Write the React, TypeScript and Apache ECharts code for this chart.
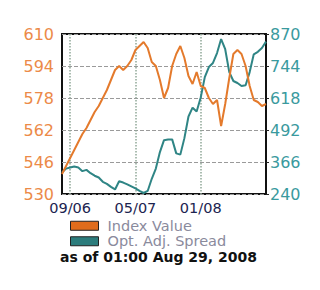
import React, { useEffect, useRef } from "react";
import * as echarts from "echarts";

const dates: string[] = [
  "2006-08-01","2006-08-16","2006-09-01","2006-09-16","2006-10-01","2006-10-16","2006-11-01","2006-11-16",
  "2006-12-01","2006-12-16","2007-01-01","2007-01-16","2007-02-01","2007-02-16","2007-03-01","2007-03-16",
  "2007-04-01","2007-04-16","2007-05-01","2007-05-16","2007-06-01","2007-06-16","2007-07-01","2007-07-16",
  "2007-08-01","2007-08-16","2007-09-01","2007-09-16","2007-10-01","2007-10-16","2007-11-01","2007-11-16",
  "2007-12-01","2007-12-16","2008-01-01","2008-01-16","2008-02-01","2008-02-16","2008-03-01","2008-03-16",
  "2008-04-01","2008-04-16","2008-05-01","2008-05-16","2008-06-01","2008-06-16","2008-07-01","2008-07-16",
  "2008-08-01","2008-08-16","2008-09-01",
];

const indexValue: number[] = [
  540, 544, 548, 552, 556, 560, 563, 567, 571, 574,
  578, 582, 587, 592, 594, 592, 594, 597, 602, 604,
  606, 603, 596, 594, 587, 578, 583, 594, 600, 604,
  598, 589, 585, 591, 584, 583, 578, 575, 577, 564,
  575, 588, 600, 602, 600, 594, 584, 577, 576, 574, 575,
];

const oas: number[] = [
  325, 340, 344, 348, 344, 330, 335, 322, 312, 305,
  288, 280, 268, 258, 290, 285, 278, 270, 262, 252,
  244, 252, 300, 340, 405, 452, 455, 455, 400, 395,
  460, 545, 580, 565, 620, 700, 740, 756, 795, 850,
  810, 720, 685, 677, 665, 668, 720, 790, 800, 815, 840,
];

const labelDates: string[] = ["2006-09-01", "2007-05-01", "2008-01-01"];
const leftTicks = { min: 530, max: 610, interval: 16 };
const rightTicks = { min: 240, max: 870, interval: 126 };
const seriesNames: string[] = ["Index Value", "Opt. Adj. Spread"];
const footnote = "as of 01:00 Aug 29, 2008";

const ORANGE = "#e47a2c";
const TEAL = "#2f8585";

export default function App() {
  const ref = useRef<HTMLDivElement>(null);
  useEffect(() => {
    if (!ref.current) return;
    const chart = echarts.init(ref.current, undefined, { renderer: "svg" });
    const showIdx = (i: number) => labelDates.includes(dates[i]);
    const font = "DejaVu Sans";
    chart.setOption({
      animation: false,
      backgroundColor: "#ffffff",
      grid: {
        left: 62, right: 54, top: 34, bottom: 96,
        show: true, borderColor: "#111111", borderWidth: 2, backgroundColor: "transparent",
      },
      xAxis: {
        type: "category",
        boundaryGap: false,
        data: dates,
        axisLine: { show: false },
        axisTick: { show: false },
        axisLabel: {
          interval: (i: number) => showIdx(i),
          formatter: (v: string) => v.slice(5, 7) + "/" + v.slice(2, 4),
          color: "#1c2450",
          fontFamily: font,
          fontSize: 14.5,
          lineHeight: 14,
          margin: 7,
        },
        splitLine: {
          show: true,
          interval: (i: number) => showIdx(i),
          lineStyle: { color: "#90a898", type: "dotted", width: 1.5 },
        },
      },
      yAxis: [
        {
          type: "value",
          ...leftTicks,
          position: "left",
          axisLine: { show: false },
          axisTick: { show: false },
          axisLabel: { color: "#ec8a48", fontFamily: font, fontSize: 16, margin: 8 },
          splitLine: { show: true, lineStyle: { color: "#9a9a9a", type: "dashed", width: 1 } },
        },
        {
          type: "value",
          ...rightTicks,
          position: "right",
          axisLine: { show: false },
          axisTick: { show: true, length: 3, lineStyle: { color: "#222" } },
          axisLabel: { color: "#3a9a9e", fontFamily: font, fontSize: 16, margin: 4 },
          splitLine: { show: false },
        },
      ],
      legend: {
        orient: "vertical",
        left: 70,
        top: 218,
        padding: 0,
        itemWidth: 28,
        itemHeight: 9,
        itemGap: 0,
        icon: "rect",
        textStyle: { color: "#8a8a9c", fontFamily: font, fontSize: 14.5, lineHeight: 15.5, padding: [0, 0, 0, 4] },
        data: [
          { name: seriesNames[0], itemStyle: { color: "#e06c1c", borderColor: "#222", borderWidth: 1 } },
          { name: seriesNames[1], itemStyle: { color: "#2c7c7c", borderColor: "#222", borderWidth: 1 } },
        ],
      },
      title: {
        text: footnote,
        left: 60,
        top: 250,
        padding: 0,
        textStyle: { color: "#111", fontFamily: font, fontSize: 14, fontWeight: "bold", lineHeight: 14 },
      },
      series: [
        {
          name: seriesNames[0],
          type: "line",
          yAxisIndex: 0,
          data: indexValue,
          showSymbol: false,
          symbol: "none",
          lineStyle: { color: ORANGE, width: 2 },
          itemStyle: { color: ORANGE },
          z: 3,
        },
        {
          name: seriesNames[1],
          type: "line",
          yAxisIndex: 1,
          data: oas,
          showSymbol: false,
          symbol: "none",
          lineStyle: { color: TEAL, width: 2 },
          itemStyle: { color: TEAL },
          z: 2,
        },
      ],
    });
    return () => chart.dispose();
  }, []);
  return (
    <div
      ref={ref}
      style={{ position: "fixed", left: 0, top: 0, width: 320, height: 290, background: "#fff" }}
    />
  );
}
